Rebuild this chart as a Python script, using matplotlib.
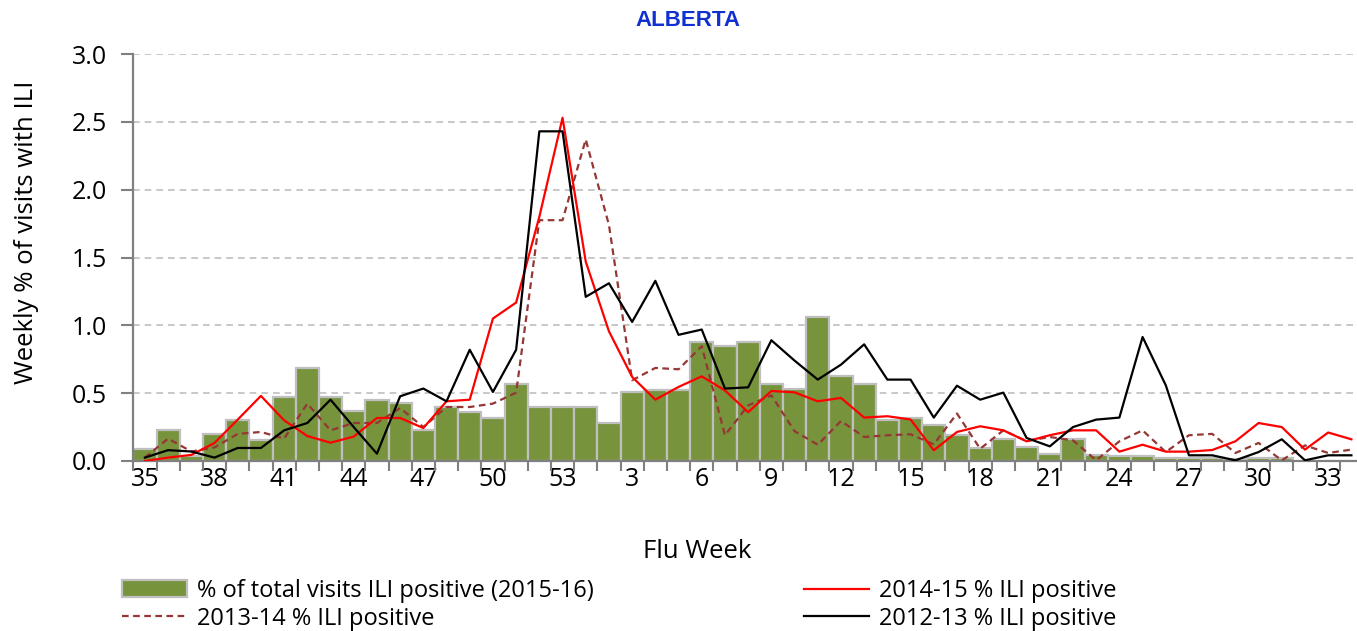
import numpy as np
import matplotlib
matplotlib.use("Agg")
import matplotlib.pyplot as plt
from matplotlib.ticker import FormatStrFormatter

plt.rcParams["font.family"] = ["Open Sans", "DejaVu Sans"]

# flu weeks 35..53 then 1..34
weeks = list(range(35, 54)) + list(range(1, 35))

# % of total visits ILI positive (2015-16)
ili_2015_16 = [0.09, 0.23, 0.035, 0.20, 0.305, 0.157, 0.475, 0.686, 0.472, 0.369,
               0.452, 0.428, 0.226, 0.398, 0.361, 0.317, 0.570, 0.398, 0.398,
               0.398, 0.28, 0.509, 0.52, 0.52, 0.875, 0.851, 0.875, 0.57, 0.533,
               1.06, 0.624, 0.57, 0.30, 0.317, 0.263, 0.19, 0.095, 0.16, 0.103,
               0.049, 0.16, 0.042, 0.037, 0.034, 0.02, 0.02, 0.02, 0.017, 0.02,
               0.02, np.nan, np.nan, np.nan]

ili_2014_15 = [0.0, 0.025, 0.045, 0.133, 0.305, 0.48, 0.30, 0.184, 0.135, 0.18,
               0.317, 0.317, 0.243, 0.44, 0.452, 1.05, 1.168, 1.80, 2.53,
               1.47, 0.956, 0.62, 0.452, 0.546, 0.624, 0.52, 0.36, 0.516, 0.506,
               0.44, 0.465, 0.32, 0.33, 0.306, 0.079, 0.214, 0.256, 0.226, 0.145,
               0.19, 0.226, 0.226, 0.069, 0.12, 0.069, 0.069, 0.081, 0.145, 0.28,
               0.25, 0.084, 0.21, 0.16]

ili_2013_14 = [0.025, 0.165, 0.07, 0.10, 0.20, 0.214, 0.165, 0.423, 0.226, 0.28,
               0.28, 0.39, 0.25, 0.398, 0.398, 0.423, 0.504, 1.775, 1.775,
               2.37, 1.74, 0.595, 0.686, 0.676, 0.846, 0.19, 0.41, 0.484, 0.22,
               0.12, 0.295, 0.177, 0.19, 0.197, 0.123, 0.35, 0.09, 0.226, 0.147,
               0.177, 0.152, 0.005, 0.145, 0.226, 0.066, 0.19, 0.20, 0.059, 0.133,
               0.005, 0.115, 0.059, 0.084]

ili_2012_13 = [0.025, 0.08, 0.07, 0.025, 0.096, 0.096, 0.226, 0.28, 0.452, 0.25,
               0.054, 0.477, 0.534, 0.44, 0.82, 0.509, 0.82, 2.43, 2.43,
               1.21, 1.31, 1.025, 1.328, 0.93, 0.969, 0.534, 0.543, 0.89, 0.74,
               0.60, 0.71, 0.86, 0.60, 0.60, 0.32, 0.555, 0.452, 0.504, 0.17,
               0.108, 0.25, 0.305, 0.32, 0.914, 0.558, 0.042, 0.042, 0.005, 0.066,
               0.16, 0.005, 0.042, 0.042]

W, H = 1357, 631
fig = plt.figure(figsize=(W / 100, H / 100), dpi=100)
# plot area runs slightly past the right edge, as in the source image
ax = fig.add_axes([133.3 / W, 170 / H, (1363 - 133.3) / W, 407 / H])

x = np.arange(len(weeks))
bars = ax.bar(x, ili_2015_16, width=1.0, color="#77933C", edgecolor="#BFBFBF",
              linewidth=1.6, zorder=2, label="% of total visits ILI positive (2015-16)")
l13, = ax.plot(x, ili_2013_14, color="#953735", lw=1.6, ls=(0, (3, 2)), zorder=3,
               label="2013-14 % ILI positive")
l14, = ax.plot(x, ili_2014_15, color="#FF0000", lw=1.6, zorder=4,
               label="2014-15 % ILI positive")
l12, = ax.plot(x, ili_2012_13, color="#000000", lw=1.6, zorder=5,
               label="2012-13 % ILI positive")

ax.set_xlim(-0.5, len(weeks) - 0.5)
ax.set_ylim(0, 3.0)
ax.set_yticks(np.arange(0, 3.01, 0.5))
ax.yaxis.set_major_formatter(FormatStrFormatter("%.1f"))
ax.yaxis.grid(True, color="#BFBFBF", ls=(0, (4, 3)), lw=1.2, zorder=0)
ax.set_axisbelow(True)

# labels every third week at bar centres, tick marks at every boundary
ax.set_xticks(x[::3])
ax.set_xticklabels([str(w) for w in weeks[::3]])
ax.set_xticks(np.arange(-0.5, len(weeks), 1.0), minor=True)
ax.tick_params(axis="x", which="major", length=0, pad=4, labelsize=18)
ax.tick_params(axis="x", which="minor", length=7, width=1.5, color="#808080")
ax.tick_params(axis="y", length=9, width=1.5, color="#808080", pad=10,
               labelsize=18)

for side in ["top", "right"]:
    ax.spines[side].set_visible(False)
for side in ["left", "bottom"]:
    ax.spines[side].set_color("#808080")
    ax.spines[side].set_linewidth(1.6)

fig.text(27 / W, 1 - 232 / H, "Weekly % of visits with ILI", fontsize=18.5,
         rotation=90, ha="center", va="center")
fig.text(697 / W, 1 - 551 / H, "Flu Week", fontsize=18.5, ha="center", va="center")
fig.text(688 / W, 1 - 20 / H, "ALBERTA", fontsize=16, fontweight="bold",
         color="#1030D0", ha="center", va="center",
         family=["Liberation Sans", "DejaVu Sans"])

leg = fig.legend([bars, l13, l14, l12],
                 [bars.get_label(), l13.get_label(), l14.get_label(), l12.get_label()],
                 ncol=2, loc="upper left",
                 bbox_to_anchor=(122 / W, 1 - 579 / H), frameon=False,
                 fontsize=17, handlelength=2.75, handleheight=0.7, handletextpad=0.42,
                 columnspacing=8.9, labelspacing=0.15, borderpad=0, borderaxespad=0)

fig.savefig("out.png", dpi=100)
